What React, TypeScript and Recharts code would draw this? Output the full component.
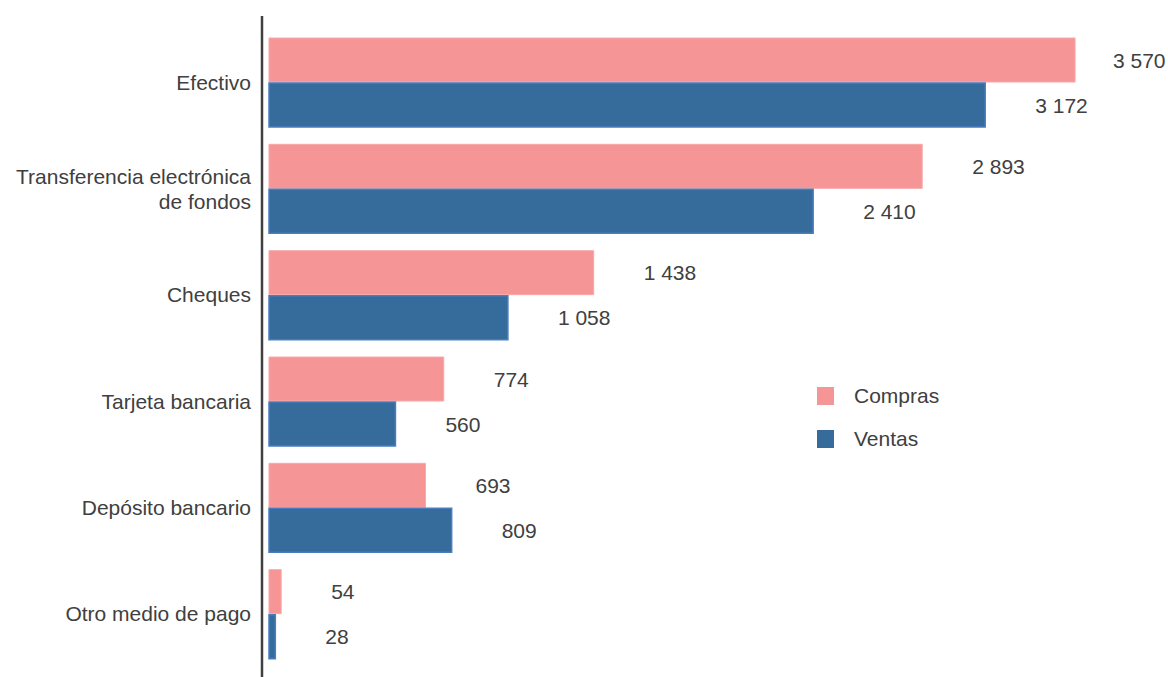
import React from 'react';
import { BarChart, Bar, XAxis, YAxis, LabelList } from 'recharts';

const categories = [
  'Efectivo',
  'Transferencia electrónica de fondos',
  'Cheques',
  'Tarjeta bancaria',
  'Depósito bancario',
  'Otro medio de pago',
];
const compras = [3570, 2893, 1438, 774, 693, 54];
const ventas = [3172, 2410, 1058, 560, 809, 28];

const categoryLines: Record<string, string[]> = {
  'Transferencia electrónica de fondos': ['Transferencia electrónica', 'de fondos'],
};

const data = categories.map((c, i) => ({ name: c, Compras: compras[i], Ventas: ventas[i] }));

const COMPRAS = '#F69596';
const COMPRAS_STROKE = '#F8A8A9';
const VENTAS = '#356C9B';
const VENTAS_STROKE = '#4A7CC0';
const TEXT = '#404040';
const FONT = '"Liberation Sans", Arial, sans-serif';
const CHART_W = 1168;

const fmt = (v: number) => String(v).replace(/\B(?=(\d{3})+(?!\d))/g, ' ');

const CatTick = (props: any) => {
  const { x, y, payload } = props;
  const lines = categoryLines[payload.value] || [payload.value];
  const lh = 25;
  const start = y - ((lines.length - 1) * lh) / 2;
  return (
    <text x={x} y={start} textAnchor="end" fill={TEXT} fontSize={21} fontFamily={FONT}>
      {lines.map((l, i) => (
        <tspan key={i} x={x} y={start + i * lh} dominantBaseline="central">
          {l}
        </tspan>
      ))}
    </text>
  );
};

const ValLabel = (props: any) => {
  const { x, y, width, height, value } = props;
  const s = fmt(value);
  const w = s.length * 10.6;
  let start = x + width + 50;
  if (start + w > CHART_W - 2) start = CHART_W - 2 - w;
  return (
    <text
      x={start}
      y={y + height / 2}
      textAnchor="start"
      dominantBaseline="central"
      fill={TEXT}
      fontSize={21}
      fontFamily={FONT}
    >
      {s}
    </text>
  );
};

const legendItems = [
  { name: 'Compras', color: COMPRAS },
  { name: 'Ventas', color: VENTAS },
];

export default function App() {
  return (
    <div style={{ position: 'absolute', left: 0, top: 0, width: CHART_W, height: 677, background: '#fff' }}>
      <BarChart
        width={CHART_W}
        height={677}
        data={data}
        layout="vertical"
        margin={{ top: 16, right: 20, bottom: 0, left: 0 }}
        barGap={1}
        barSize={44}
      >
        <XAxis type="number" hide domain={[-31, 3893]} />
        <YAxis
          type="category"
          dataKey="name"
          width={262}
          tickLine={false}
          tickSize={0}
          tickMargin={11}
          axisLine={{ stroke: '#404040', strokeWidth: 2.5 }}
          padding={{ top: 13, bottom: 10 }}
          tick={<CatTick />}
          interval={0}
        />
        <Bar dataKey="Compras" fill={COMPRAS} stroke={COMPRAS_STROKE} strokeWidth={1} isAnimationActive={false}>
          <LabelList dataKey="Compras" content={<ValLabel />} />
        </Bar>
        <Bar dataKey="Ventas" fill={VENTAS} stroke={VENTAS_STROKE} strokeWidth={1.5} isAnimationActive={false}>
          <LabelList dataKey="Ventas" content={<ValLabel />} />
        </Bar>
      </BarChart>
      <div
        style={{
          position: 'absolute',
          left: 817,
          top: 374,
          fontFamily: FONT,
          fontSize: 21,
          color: TEXT,
        }}
      >
        {legendItems.map((it) => (
          <div key={it.name} style={{ display: 'flex', alignItems: 'center', height: 43 }}>
            <div style={{ width: 17, height: 18, background: it.color, marginRight: 20 }} />
            <span>{it.name}</span>
          </div>
        ))}
      </div>
    </div>
  );
}
